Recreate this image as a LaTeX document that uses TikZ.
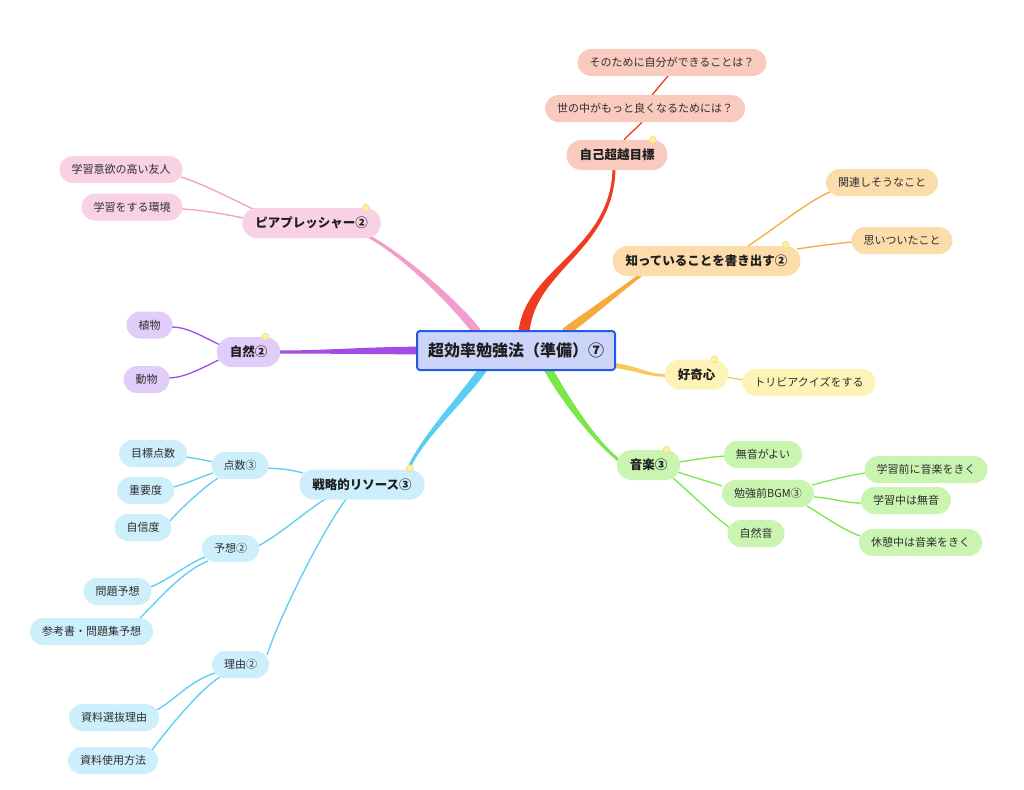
\documentclass[tikz,border=0pt]{standalone}
\usepackage{fontspec}
\setmainfont{Noto Sans CJK JP}
\usetikzlibrary{calc}
\pgfdeclarelayer{back}\pgfdeclarelayer{links}
\pgfsetlayers{back,links,main}
\definecolor{redL}{HTML}{EE3B22}\definecolor{redF}{HTML}{F9CBBF}
\definecolor{orL}{HTML}{F6AA3D}\definecolor{orF}{HTML}{FBDCAA}
\definecolor{yeL}{HTML}{F6C85E}\definecolor{yeF}{HTML}{FEF3B6}
\definecolor{grL}{HTML}{7BE84A}\definecolor{grF}{HTML}{C9F5B0}
\definecolor{blL}{HTML}{5ACDF5}\definecolor{blF}{HTML}{CDEFFB}
\definecolor{puL}{HTML}{A14BE8}\definecolor{puF}{HTML}{E2CCF9}
\definecolor{piL}{HTML}{F29DCB}\definecolor{piF}{HTML}{F8D1E4}
\definecolor{rootF}{HTML}{CCD5F9}\definecolor{rootD}{HTML}{2259E6}
\definecolor{txt}{HTML}{2E2E2E}\definecolor{txtb}{HTML}{1E1E1E}
\definecolor{dotF}{HTML}{FDF1A0}\definecolor{dotD}{HTML}{F1DE7A}
\newcommand\taper[8]{%
\fill[#1] ($(#2)+#6$) .. controls ($(#2)+#3+#6$) and ($(#5)+#4+#7$) .. ($(#5)+#7$) -- ($(#5)-#7$) .. controls ($(#5)+#4-#7$) and ($(#2)+#3-#6$) .. ($(#2)-#6$) -- cycle;}
\tikzset{
 leaf/.style={rounded corners=13.5pt, minimum height=27pt, inner xsep=12pt, inner ysep=0pt, font=\fontsize{11}{13}\selectfont, text=txt},
 topic/.style={rounded corners=15pt, minimum height=30pt, inner xsep=13pt, inner ysep=0pt, font=\fontsize{12.5}{15}\selectfont\bfseries, text=txtb},
 rootbox/.style={rounded corners=3pt, minimum height=39pt, inner xsep=11pt, inner ysep=0pt, font=\fontsize{16}{19}\selectfont\bfseries, text=txtb, fill=rootF, draw=rootD, line width=2pt},
 lnk/.style={line width=1.3pt},
 mdot/.style={circle, fill=dotF, draw=dotD, line width=0.6pt, inner sep=0pt, minimum size=7pt}
}
\begin{document}
\begin{tikzpicture}[x=1pt,y=-1pt]
\useasboundingbox (0,0) rectangle (1024,789);
\begin{pgfonlayer}{back}
\fill[white] (0,0) rectangle (1024,789);
\end{pgfonlayer}
% root
\node[rootbox] (root) at (516,350.5) {超効率勉強法（準備）⑦};
% red
\node[topic,fill=redF] (self) at (617,155) {自己超越目標};
\node[leaf,fill=redF] (yono) at (645,108.5) {世の中がもっと良くなるためには？};
\node[leaf,fill=redF] (sono) at (672,62.5) {そのために自分ができることは？};
% orange
\node[topic,fill=orF] (know) at (706.5,261) {知っていることを書き出す②};
\node[leaf,fill=orF] (kanren) at (882,182.5) {関連しそうなこと};
\node[leaf,fill=orF] (omoi) at (902,240.5) {思いついたこと};
% yellow
\node[topic,fill=yeF] (cur) at (696.5,374.5) {好奇心};
\node[leaf,fill=yeF] (trivia) at (809,382.5) {トリビアクイズをする};
% green
\node[topic,fill=grF] (music) at (648.5,465) {音楽③};
\node[leaf,fill=grF] (muon) at (763,454.5) {無音がよい};
\node[leaf,fill=grF] (bgm) at (768,493.5) {勉強前BGM③};
\node[leaf,fill=grF] (shizen) at (756,533.5) {自然音};
\node[leaf,fill=grF] (gakuzen) at (926,469.5) {学習前に音楽をきく};
\node[leaf,fill=grF] (gakuchu) at (906,500.5) {学習中は無音};
\node[leaf,fill=grF] (kyukei) at (920.5,542.5) {休憩中は音楽をきく};
% pink
\node[topic,fill=piF] (pp) at (311.5,223) {ピアプレッシャー②};
\node[leaf,fill=piF] (yuujin) at (121,169.5) {学習意欲の高い友人};
\node[leaf,fill=piF] (kankyo) at (132,207) {学習をする環境};
% purple
\node[topic,fill=puF] (nat) at (248.5,352) {自然②};
\node[leaf,fill=puF] (shoku) at (149.5,325) {植物};
\node[leaf,fill=puF] (dou) at (146.5,379.5) {動物};
% blue
\node[topic,fill=blF] (strat) at (362,484.5) {戦略的リソース③};
\node[leaf,fill=blF] (ten) at (240,465.5) {点数③};
\node[leaf,fill=blF] (mokuhyo) at (153,453.5) {目標点数};
\node[leaf,fill=blF] (juyo) at (145.5,490.5) {重要度};
\node[leaf,fill=blF] (jishin) at (143,527.5) {自信度};
\node[leaf,fill=blF] (yoso) at (230.5,548.5) {予想②};
\node[leaf,fill=blF] (mondai) at (117.5,591.5) {問題予想};
\node[leaf,fill=blF] (sanko) at (91.5,631.5) {参考書・問題集予想};
\node[leaf,fill=blF] (riyu) at (240.5,664.5) {理由②};
\node[leaf,fill=blF] (senbatsu) at (114,717.5) {資料選抜理由};
\node[leaf,fill=blF] (shiyo) at (113,760.5) {資料使用方法};
% markers
\node[mdot] (d1) at ($(self.north east)+(-15,0)$) {};
\node[mdot] (d2) at ($(know.north east)+(-15,-1)$) {};
\node[mdot] (d3) at ($(cur.north east)+(-14,0)$) {};
\node[mdot] (d4) at ($(music.north east)+(-14,0)$) {};
\node[mdot] (d5) at ($(pp.north east)+(-15,0)$) {};
\node[mdot] (d6) at ($(nat.north east)+(-15,0)$) {};
\node[mdot] (d7) at ($(strat.north east)+(-15,-1)$) {};
\begin{pgfonlayer}{links}
\coordinate (rS) at ($(root.north)+(8,2)$);
\coordinate (rE) at ($(self.south)+(-3,-1)$);
\coordinate (oS) at ($(root.north)+(49,2)$);
\coordinate (oE) at ($(know.south)+(-66,-1)$);
\coordinate (yS) at ($(root.east)+(-2,15)$);
\coordinate (yE) at ($(cur.west)+(2,1)$);
\coordinate (gS) at ($(root.south)+(32,-2)$);
\coordinate (gE) at ($(music.west)+(2,-5)$);
\coordinate (bS) at ($(root.south)+(-33,-2)$);
\coordinate (bE) at ($(strat.north)+(46,1)$);
\coordinate (pS) at ($(root.north)+(-39,2)$);
\coordinate (pE) at ($(pp.south)+(57,-2)$);
\coordinate (vS) at ($(root.west)+(2,0)$);
\coordinate (vE) at ($(nat.east)+(-2,0)$);
\taper{redL}{rS}{(6,-63)}{(-2,81)}{rE}{(5.5,0)}{(1.5,0)}{}
\taper{orL}{oS}{(25,-18)}{(-20,15)}{oE}{(2.5,3.4)}{(1,1.4)}{}
\taper{yeL}{yS}{(25,3)}{(-20,0)}{yE}{(0,2.5)}{(0,1.3)}{}
\taper{grL}{gS}{(17,30)}{(-25,-20)}{gE}{(3.6,-2.1)}{(0.9,-1.2)}{}
\taper{blL}{bS}{(-18,27)}{(12,-31)}{bE}{(3.4,2.3)}{(1.4,0.5)}{}
\taper{piL}{pS}{(-17,-23)}{(42,24)}{pE}{(3.4,-2.6)}{(0.75,-1.3)}{}
\taper{puL}{vS}{(-50,0)}{(50,0)}{vE}{(0,3.8)}{(0,1.5)}{}
% red subs
\draw[lnk,redL] ($(self)+(7,-15)$) .. controls +(6,-7) and +(-6,7) .. ($(yono)+(-3,13.5)$);
\draw[lnk,redL] ($(yono)+(7,-13.5)$) .. controls +(6,-7) and +(-6,7) .. ($(sono)+(-4,13.5)$);
% orange subs
\draw[lnk,orL] ($(know)+(41.5,-15)$) .. controls +(30,-20) and +(-20,8) .. ($(kanren)+(-52,9.5)$);
\draw[lnk,orL] ($(know)+(90.5,-12)$) .. controls +(20,-3) and +(-20,2) .. ($(omoi)+(-50,1.5)$);
% yellow sub
\draw[lnk,yeL] ($(cur)+(29,2.5)$) -- ($(trivia)+(-66,-2.5)$);
% green subs
\draw[lnk,grL] ($(music)+(30,-3)$) .. controls +(15,-2) and +(-15,1) .. ($(muon)+(-38,1.5)$);
\draw[lnk,grL] ($(music)+(29,7)$) .. controls +(15,5) and +(-15,-5) .. ($(bgm)+(-46,-7.5)$);
\draw[lnk,grL] ($(music)+(24.5,13)$) .. controls +(25,22) and +(-12,-8) .. ($(shizen)+(-27,-6.5)$);
\draw[lnk,grL] ($(bgm)+(44,-8.5)$) .. controls +(20,-5) and +(-20,3) .. ($(gakuzen)+(-61,3.5)$);
\draw[lnk,grL] ($(bgm)+(46,3.5)$) .. controls +(20,1) and +(-20,0) .. ($(gakuchu)+(-44,2.5)$);
\draw[lnk,grL] ($(bgm)+(39,12.5)$) .. controls +(20,12) and +(-20,-8) .. ($(kyukei)+(-60.5,-6.5)$);
% pink subs
\draw[lnk,piL] ($(pp)+(-56.5,-13)$) .. controls +(-25,-12) and +(20,6) .. ($(yuujin)+(60,7.5)$);
\draw[lnk,piL] ($(pp)+(-68,-5)$) .. controls +(-20,-4) and +(20,1) .. ($(kankyo)+(50,2)$);
% purple subs
\draw[lnk,puL] ($(nat)+(-28.5,-7)$) .. controls +(-20,-10) and +(15,0) .. ($(shoku)+(22,2)$);
\draw[lnk,puL] ($(nat)+(-30,8)$) .. controls +(-20,10) and +(15,0) .. ($(dou)+(21.5,-1.5)$);
% blue subs
\draw[lnk,blL] ($(strat)+(-59,-11.5)$) .. controls +(-15,-4) and +(15,1) .. ($(ten)+(27,2.5)$);
\draw[lnk,blL] ($(ten)+(-27,-3.5)$) .. controls +(-10,-2) and +(10,1) .. ($(mokuhyo)+(32,3.5)$);
\draw[lnk,blL] ($(ten)+(-27,7.5)$) .. controls +(-15,5) and +(12,-3) .. ($(juyo)+(28,-3.5)$);
\draw[lnk,blL] ($(ten)+(-22,12.5)$) .. controls +(-15,10) and +(10,-12) .. ($(jishin)+(27,-6.5)$);
\draw[lnk,blL] ($(strat)+(-35,13.5)$) .. controls +(-20,12) and +(20,-10) .. ($(yoso)+(27.5,-2.5)$);
\draw[lnk,blL] ($(strat)+(-15,13.5)$) .. controls +(-20,25) and +(15,-45) .. ($(riyu)+(26.5,-9.5)$);
\draw[lnk,blL] ($(yoso)+(-25.5,8.5)$) .. controls +(-20,8) and +(20,-8) .. ($(mondai)+(33,-4.5)$);
\draw[lnk,blL] ($(yoso)+(-22.5,12.5)$) .. controls +(-25,10) and +(20,-20) .. ($(sanko)+(48.5,-13.5)$);
\draw[lnk,blL] ($(riyu)+(-25.5,8.5)$) .. controls +(-25,8) and +(20,-12) .. ($(senbatsu)+(43,-7.5)$);
\draw[lnk,blL] ($(riyu)+(-20.5,12.5)$) .. controls +(-20,12) and +(15,-20) .. ($(shiyo)+(39,-10.5)$);
\end{pgfonlayer}
\end{tikzpicture}
\end{document}
